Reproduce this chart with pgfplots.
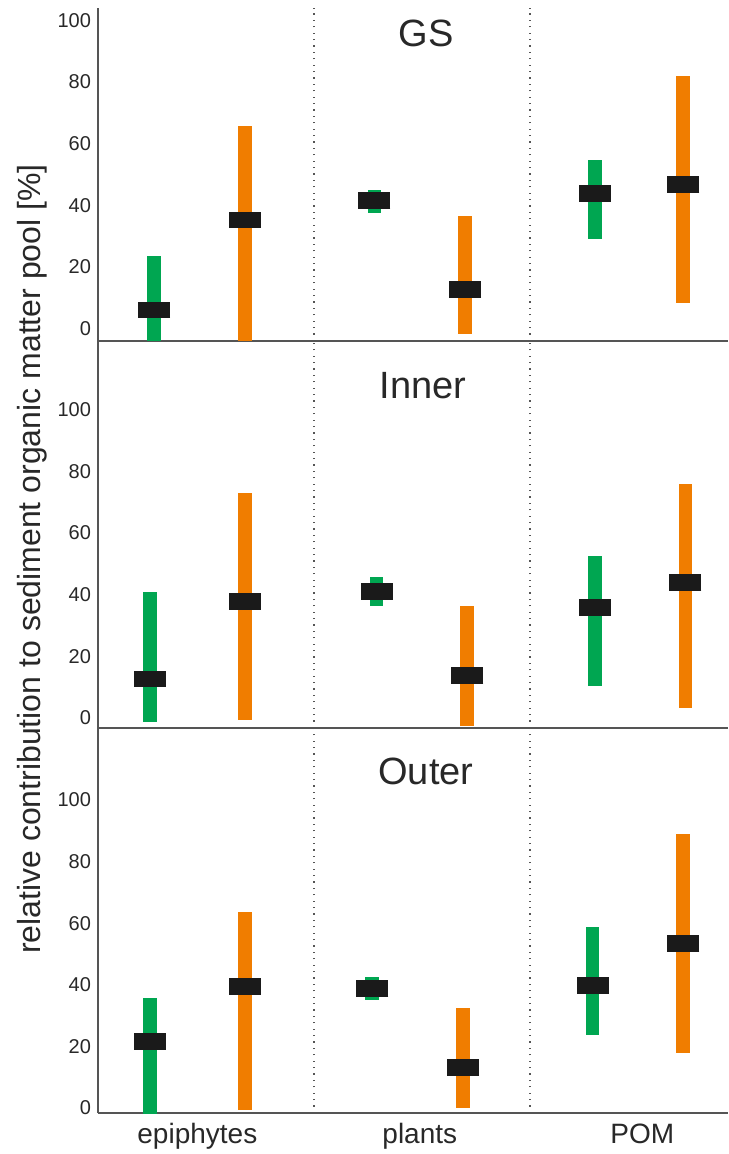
\documentclass[border=0pt]{standalone}
\usepackage{pgfplots}
\pgfplotsset{compat=1.18}
\usepackage{pgfplotstable}
\usepackage{fontspec}
\setmainfont{Liberation Sans}
\definecolor{cgreen}{RGB}{0,166,81}
\definecolor{corange}{RGB}{240,125,0}
\definecolor{cmed}{RGB}{26,26,26}
\definecolor{caxis}{RGB}{85,85,85}
\definecolor{ctext}{RGB}{40,40,40}

% GS panel
\pgfplotstableread{
x lo hi med
0.26 -5 23.5 6.0
1.28 37.5 44.9 41.5
2.30 28.9 54.6 43.9
}\gsgreen
\pgfplotstableread{
x lo hi med
0.68 -5 65.6 35.2
1.70 -1.9 36.6 12.6
2.71 8.2 81.8 46.7
}\gsorange
% Inner panel
\pgfplotstableread{
x lo hi med
0.24 -1.2 40.9 12.6
1.29 36.2 45.7 40.9
2.30 10.2 52.4 35.7
}\ingreen
\pgfplotstableread{
x lo hi med
0.68 -0.7 72.9 37.7
1.71 -2.8 36.2 13.7
2.72 3.2 75.9 44.0
}\inorange
% Outer panel
\pgfplotstableread{
x lo hi med
0.24 -3 35.6 21.5
1.27 35.1 42.4 38.7
2.29 23.7 58.9 39.8
}\outgreen
\pgfplotstableread{
x lo hi med
0.68 -0.6 63.7 39.6
1.69 -0.1 32.4 13.1
2.71 18.0 89.0 53.5
}\outorange

\pgfplotsset{
  panel/.style={
    scale only axis, width=315pt,
    xmin=0, xmax=2.917,
    axis x line*=bottom, axis y line*=left,
    axis line style={-, draw=caxis, line width=0.7pt},
    major tick length=0pt,
    ytick={0,20,40,60,80,100},
    /pgf/number format/assume math mode=true,
    yticklabel style={font=\fontsize{10}{12}\selectfont, text=ctext},
    xticklabel style={font=\fontsize{14}{16}\selectfont, text=ctext, anchor=base, yshift=-15pt},
    extra x ticks={1,2},
    extra x tick labels={},
    extra x tick style={grid=major, major grid style={draw=caxis, line width=0.6pt, dash pattern=on 0.6pt off 2.6pt}},
  },
  rangeg/.style={only marks, mark=none, error bars/.cd, y dir=both, y explicit, error mark=none,
    error bar style={line width=6.85pt, draw=cgreen}},
  rangeo/.style={only marks, mark=none, error bars/.cd, y dir=both, y explicit, error mark=none,
    error bar style={line width=6.85pt, draw=corange}},
  medstyle/.style={only marks, mark=-, mark size=8pt, mark options={line width=8.4pt, draw=cmed, solid}},
}

\newcommand{\panelplots}[2]{%
  \addplot[rangeg] table[x=x, y=med, y error plus expr=\thisrow{hi}-\thisrow{med}, y error minus expr=\thisrow{med}-\thisrow{lo}] {#1};
  \addplot[rangeo] table[x=x, y=med, y error plus expr=\thisrow{hi}-\thisrow{med}, y error minus expr=\thisrow{med}-\thisrow{lo}] {#2};
  \addplot[medstyle] table[x=x, y=med] {#1};
  \addplot[medstyle] table[x=x, y=med] {#2};
}

\begin{document}
\begin{tikzpicture}
\useasboundingbox (0pt,0pt) rectangle (364pt,-577pt);

\begin{axis}[panel, at={(49pt,-170.5pt)}, anchor=south west, height=166.5pt,
  ymin=-4.06, ymax=104, xtick=\empty]
  \panelplots{\gsgreen}{\gsorange}
  \node[font=\fontsize{19}{22}\selectfont, text=ctext, anchor=base] at (axis cs:1.52,91.5) {GS};
\end{axis}

\begin{axis}[panel, at={(49pt,-364pt)}, anchor=south west, height=193.5pt,
  ymin=-3.3, ymax=122.3, xtick=\empty]
  \panelplots{\ingreen}{\inorange}
  \node[font=\fontsize{19}{22}\selectfont, text=ctext, anchor=base] at (axis cs:1.506,103.8) {Inner};
\end{axis}

\begin{axis}[panel, at={(49pt,-556.5pt)}, anchor=south west, height=192.5pt,
  ymin=-1.6, ymax=123.4, xtick={0.46,1.49,2.52}, xticklabels={epiphytes,plants,POM}]
  \panelplots{\outgreen}{\outorange}
  \node[font=\fontsize{19}{22}\selectfont, text=ctext, anchor=base] at (axis cs:1.518,104.9) {Outer};
\end{axis}

\node[rotate=90, anchor=base, font=\fontsize{16}{19}\selectfont, text=ctext] at (20pt,-279.5pt)
  {relative contribution to sediment organic matter pool [\%]};
\end{tikzpicture}
\end{document}
